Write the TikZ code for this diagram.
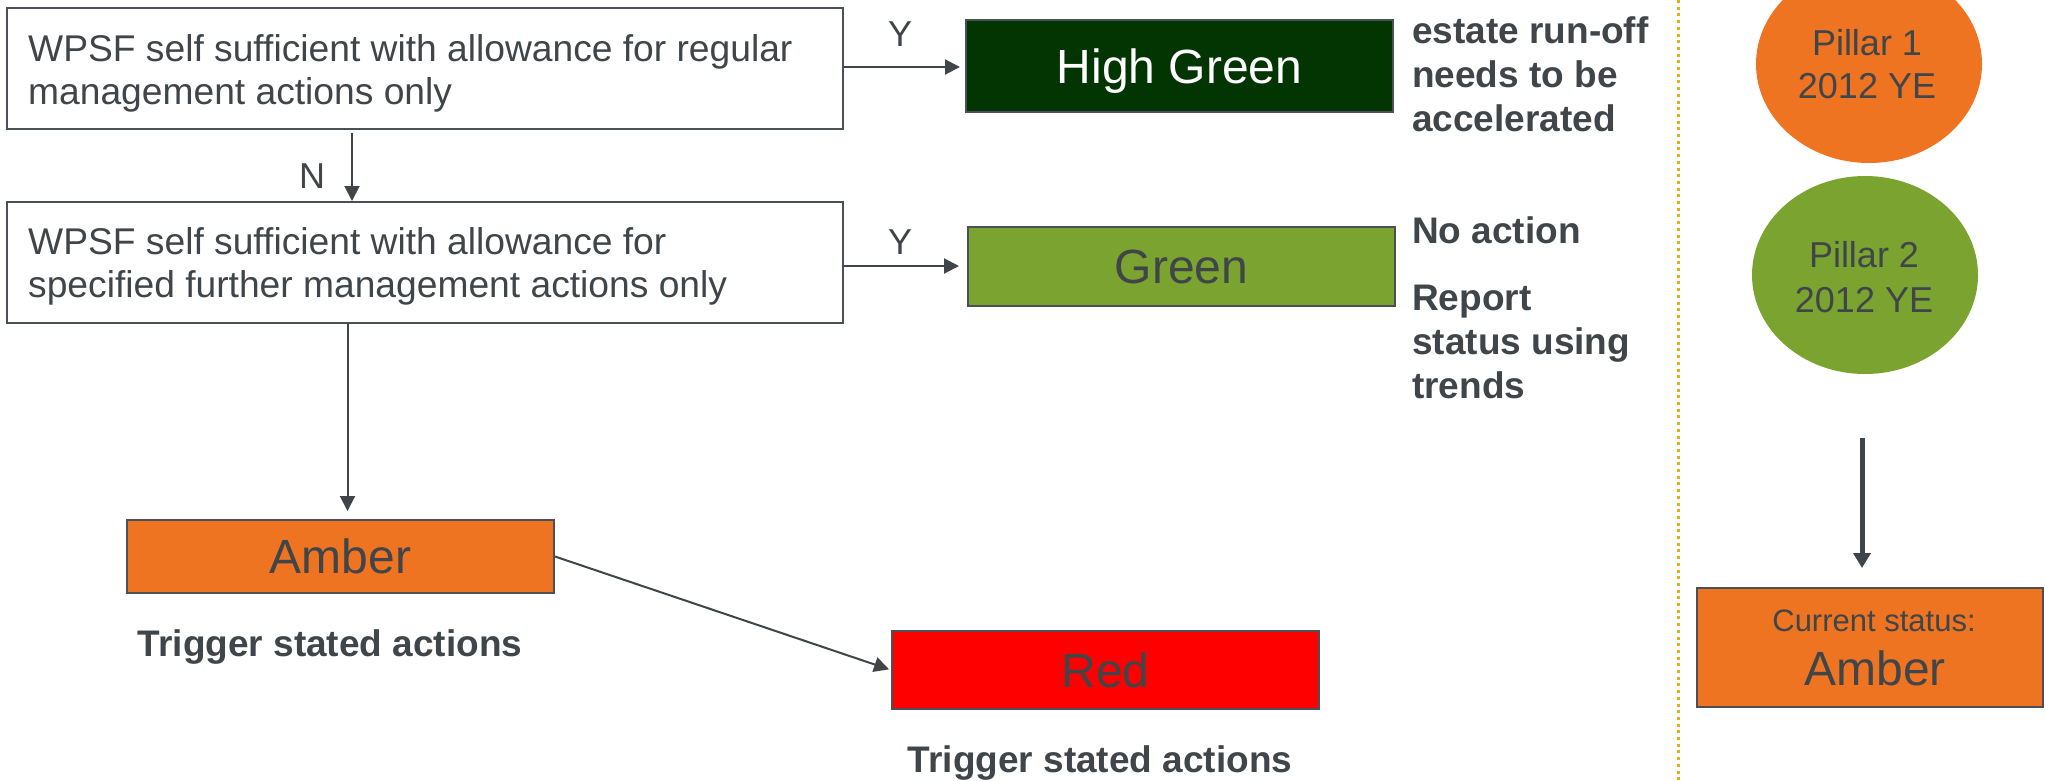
\documentclass[tikz,border=0pt]{standalone}
\usepackage{fontspec}
\setmainfont{Liberation Sans}
\usetikzlibrary{arrows.meta,shapes.geometric}
\definecolor{txt}{HTML}{40454A}
\definecolor{bord}{HTML}{4B5056}
\definecolor{hgreen}{HTML}{033503}
\definecolor{lgreen}{HTML}{7BA32F}
\definecolor{amberc}{HTML}{EE7421}
\definecolor{redc}{HTML}{FF0000}
\definecolor{gold}{HTML}{E2AE1D}
\tikzset{
  reg/.style={font=\fontsize{36}{43}\selectfont, text=txt, inner sep=0pt},
  boxtext/.style={font=\fontsize{37.2}{43}\selectfont, text=txt, inner sep=0pt},
  bld/.style={font=\fontsize{37}{44}\selectfont\bfseries, text=txt, inner sep=0pt},
  small/.style={font=\fontsize{31}{37}\selectfont, text=txt, inner sep=0pt},
  big/.style={font=\fontsize{48}{56}\selectfont, text height=34pt, text depth=0pt},
  boxc/.style={draw=bord, line width=2pt, inner sep=0pt, rectangle},
  arr/.style={draw=txt, line width=2pt, -{Triangle[length=15pt,width=15pt]}},
  thickarr/.style={draw=txt, line width=5pt, -{Triangle[length=15pt,width=17pt]}},
  dotline/.style={draw=gold, line width=3pt, dash pattern=on 3pt off 3.7pt},
}
\begin{document}
\begin{tikzpicture}[x=1pt,y=-1pt]
\useasboundingbox (0,0) rectangle (2045,780);
\clip (0,0) rectangle (2045,780);
\fill[white] (0,0) rectangle (2045,780);

% question boxes
\node[boxc, fill=white, minimum width=836pt, minimum height=121pt] (b1) at (425,68.5) {};
\node[boxc, fill=white, minimum width=836pt, minimum height=121pt] (b2) at (425,262.5) {};
\node[boxtext, anchor=base west] (t1) at (28,61) {\begin{tabular}[t]{@{}l@{}}WPSF self sufficient with allowance for regular\\management actions only\end{tabular}};
\node[boxtext, anchor=base west] (t2) at (28,254) {\begin{tabular}[t]{@{}l@{}}WPSF self sufficient with allowance for\\specified further management actions only\end{tabular}};

% status boxes
\node[boxc, fill=hgreen, minimum width=427pt, minimum height=92pt, big, text=white] (hg) at (1179.5,66) {High Green};
\node[boxc, fill=lgreen, minimum width=427pt, minimum height=79pt, big, text=txt] (gr) at (1181.5,266.5) {Green};
\node[boxc, fill=amberc, minimum width=427pt, minimum height=73pt, big, text=txt] (am) at (340.5,556.5) {Amber};
\node[boxc, fill=redc, minimum width=427pt, minimum height=78pt, big, text=txt] (rd) at (1105.5,670) {Red};

% labels
\node[reg, anchor=base] (y1) at (900,46) {Y};
\node[reg, anchor=base] (y2) at (900,254) {Y};
\node[reg, anchor=base] (n1) at (312,188) {N};

% side notes
\node[bld, anchor=base west] (s1) at (1412,43) {\begin{tabular}[t]{@{}l@{}}estate run-off\\needs to be\\accelerated\end{tabular}};
\node[bld, anchor=base west] (s2) at (1412,243) {No action};
\node[bld, anchor=base west] (s3) at (1412,310) {\begin{tabular}[t]{@{}l@{}}Report\\status using\\trends\end{tabular}};
\node[bld, anchor=base] (tr1) at (330,656) {Trigger stated actions};
\node[bld, anchor=base] (tr2) at (1100,772) {Trigger stated actions};

% connectors
\draw[arr, shorten >=5pt] (b1.east |- 0,67) -- (hg.west |- 0,67);
\draw[arr, shorten >=8pt] (b2.east |- 0,266) -- (gr.west |- 0,266);
\draw[arr, shorten <=3pt] ([xshift=-73pt]b1.south) -- ([xshift=-73pt]b2.north);
\draw[arr, shorten >=8pt] ([xshift=-77.5pt]b2.south) -- ([xshift=7pt]am.north);
\draw[arr, shorten >=2pt] (am.east) -- (rd.west);

% divider
\draw[dotline] (1678,0) -- (1678,780);

% right panel
\node[ellipse, fill=amberc, minimum width=226pt, minimum height=198pt, inner sep=0pt] (p1) at (1869,64) {};
\node[ellipse, fill=lgreen, minimum width=226pt, minimum height=198pt, inner sep=0pt] (p2) at (1865,275) {};
\node[reg, anchor=base] (pt1) at (1867,55) {\begin{tabular}[t]{@{}c@{}}Pillar 1\\2012 YE\end{tabular}};
\node[reg, anchor=base, font=\fontsize{36}{45}\selectfont] (pt2) at (1864,267) {\begin{tabular}[t]{@{}c@{}}Pillar 2\\2012 YE\end{tabular}};

\node[boxc, fill=amberc, minimum width=346pt, minimum height=119pt] (cs) at (1870,647.5) {};
\node[small, anchor=base] (cst) at (1874,631) {Current status:};
\node[reg, font=\fontsize{48}{56}\selectfont, anchor=base] (csa) at (1875,685) {Amber};

\coordinate (cstart) at (1862,438);
\draw[thickarr, shorten >=19pt] (cstart) -- (cstart |- cs.north);
\end{tikzpicture}
\end{document}
